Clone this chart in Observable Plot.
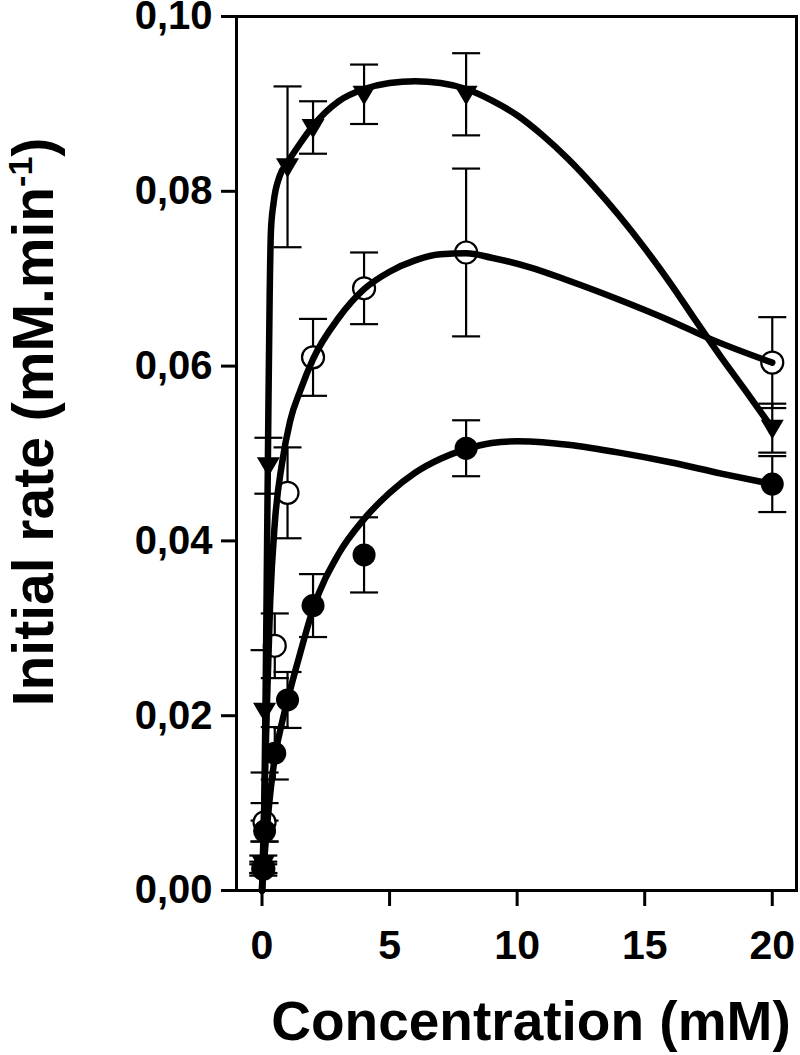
<!DOCTYPE html>
<html><head><meta charset="utf-8">
<script src="https://cdn.jsdelivr.net/npm/d3@7"></script>
<script src="https://cdn.jsdelivr.net/npm/@observablehq/plot@0.6"></script>
<style>html,body{margin:0;background:#fff} svg{display:block}</style>
</head><body><div id="chart"></div>
<script>
// ---- data ----
const xTicks = [0, 5, 10, 15, 20];
const yTicks = [0, 0.02, 0.04, 0.06, 0.08, 0.10];
const xTitle = "Concentration (mM)";
const yTitleMain = "Initial rate (mM.min";
const yTitleSup = "-1";

// triangles (filled, pointing down)
const triX   = [0.05, 0.1, 0.25, 1, 2, 4, 8, 20];
const triY   = [0.0030, 0.0205, 0.0486, 0.0828, 0.0873, 0.0911, 0.0911, 0.0529];
const triErr = [0.0010, 0.0070, 0.0032, 0.0092, 0.0030, 0.0034, 0.0047, 0.0028];

// open circles
const openX   = [0.05, 0.1, 0.5, 1, 2, 4, 8, 20];
const openY   = [0.0025, 0.0078, 0.0280, 0.0455, 0.0610, 0.0689, 0.0730, 0.0604];
const openErr = [0.0008, 0.0022, 0.0037, 0.0052, 0.0044, 0.0041, 0.0096, 0.0052];

// filled circles
const fillX   = [0.05, 0.1, 0.5, 1, 2, 4, 8, 20];
const fillY   = [0.0025, 0.0068, 0.0157, 0.0218, 0.0326, 0.0384, 0.0506, 0.0465];
const fillErr = [0.0005, 0.0012, 0.0030, 0.0032, 0.0036, 0.0043, 0.0032, 0.0032];

// fitted curves
const triCurveX = [0, 0.1, 0.15, 0.2, 0.25, 0.3, 0.35, 0.45, 0.7, 1, 1.5, 2, 3, 4, 5, 6, 7, 8, 9, 10, 11, 12, 13, 14, 15, 16, 17, 18, 19, 20];
const triCurveY = [0, 0.012, 0.025, 0.040, 0.055, 0.068, 0.0755, 0.0786, 0.0818, 0.0833, 0.0855, 0.0875, 0.0903, 0.0917, 0.0924, 0.0926, 0.0924, 0.0917, 0.0904, 0.0887, 0.0864, 0.0837, 0.0806, 0.0772, 0.0735, 0.0695, 0.0652, 0.0610, 0.0570, 0.0529];
const openCurveX = [0, 0.1, 0.2, 0.32, 0.5, 0.78, 1.1, 1.5, 2, 3, 4, 5, 6, 7, 8, 9, 10.5, 12, 14, 16, 17.5, 20];
const openCurveY = [0, 0.011, 0.022, 0.033, 0.042, 0.0488, 0.0537, 0.0572, 0.0608, 0.0655, 0.0688, 0.0708, 0.0721, 0.0728, 0.0729, 0.0724, 0.0713, 0.0698, 0.0676, 0.0652, 0.0632, 0.0604];
const fillCurveX = [0, 0.1, 0.25, 0.5, 0.75, 1, 1.5, 2, 3, 4, 5, 6, 7, 8, 9, 10, 11, 12, 14, 16, 18, 20];
const fillCurveY = [0, 0.004, 0.009, 0.0152, 0.0188, 0.0218, 0.0272, 0.0322, 0.0385, 0.0425, 0.0455, 0.0478, 0.0494, 0.0505, 0.0512, 0.0514, 0.0513, 0.0510, 0.0501, 0.0490, 0.0477, 0.0465];

// ---- build tables ----
const rows = (X, Y, E) => X.map((x, i) => ({x, y: Y[i], e: E[i]}));
const tri = rows(triX, triY, triErr);
const open = rows(openX, openY, openErr);
const fill = rows(fillX, fillY, fillErr);
const allPts = [...tri, ...open, ...fill];
const curve = (s, X, Y) => X.map((x, i) => ({s, x, y: Y[i]}));
const curves = [...curve("tri", triCurveX, triCurveY), ...curve("open", openCurveX, openCurveY), ...curve("fill", fillCurveX, fillCurveY)];

const triDown = {draw(ctx) { ctx.moveTo(-11.5, -8.5); ctx.lineTo(11.5, -8.5); ctx.lineTo(0, 11); ctx.closePath(); }};
const capSym = {draw(ctx) { ctx.moveTo(-14, 0); ctx.lineTo(14, 0); }};

const font = "'Liberation Sans', Arial, Helvetica, sans-serif";

const svg = Plot.plot({
  width: 800, height: 1055,
  marginLeft: 236, marginRight: 4, marginTop: 16, marginBottom: 165,
  style: {fontFamily: font, fontWeight: "bold", background: "white", color: "black", overflow: "visible"},
  x: {domain: [-1, 20.95]},
  y: {domain: [0, 0.1]},
  marks: [
    Plot.ruleX(allPts, {x: "x", y1: d => d.y - d.e, y2: d => d.y + d.e, stroke: "black", strokeWidth: 2.2}),
    Plot.dot(allPts, {x: "x", y: d => d.y + d.e, symbol: capSym, stroke: "black", strokeWidth: 2.2, fill: "none"}),
    Plot.dot(allPts, {x: "x", y: d => d.y - d.e, symbol: capSym, stroke: "black", strokeWidth: 2.2, fill: "none"}),
    Plot.dot(open, {x: "x", y: "y", r: 11, fill: "white", stroke: "black", strokeWidth: 2.2}),
    Plot.line(curves, {x: "x", y: "y", z: "s", curve: "monotone-x", stroke: "black", strokeWidth: 6.5}),
    Plot.dot(fill, {x: "x", y: "y", r: 11.5, fill: "black"}),
    Plot.dot(tri, {x: "x", y: "y", symbol: triDown, fill: "black"}),
    Plot.frame({stroke: "black", strokeWidth: 3}),
    Plot.axisX({ticks: xTicks, tickSize: 16, tickPadding: 23, fontSize: 41, fontWeight: "bold", strokeWidth: 3, tickFormat: d => String(d), label: null}),
    Plot.axisY({ticks: yTicks, tickSize: 15, tickPadding: 9, fontSize: 40, fontWeight: "bold", strokeWidth: 3, tickFormat: d => d.toFixed(2).replace(".", ","), label: null})
  ]
});

const s = d3.select(svg);
s.append("text")
  .attr("x", 531).attr("y", 1040)
  .attr("text-anchor", "middle")
  .attr("font-family", font).attr("font-weight", "bold").attr("font-size", 55)
  .attr("fill", "black")
  .text(xTitle);
const yt = s.append("text")
  .attr("transform", "translate(53,422) rotate(-90)")
  .attr("text-anchor", "middle")
  .attr("font-family", font).attr("font-weight", "bold").attr("font-size", 57)
  .attr("fill", "black");
yt.append("tspan").text(yTitleMain);
yt.append("tspan").attr("font-size", 34).attr("dy", -21).text(yTitleSup);
yt.append("tspan").attr("dy", 21).text(")");

document.getElementById("chart").appendChild(svg);
</script>
</body></html>
